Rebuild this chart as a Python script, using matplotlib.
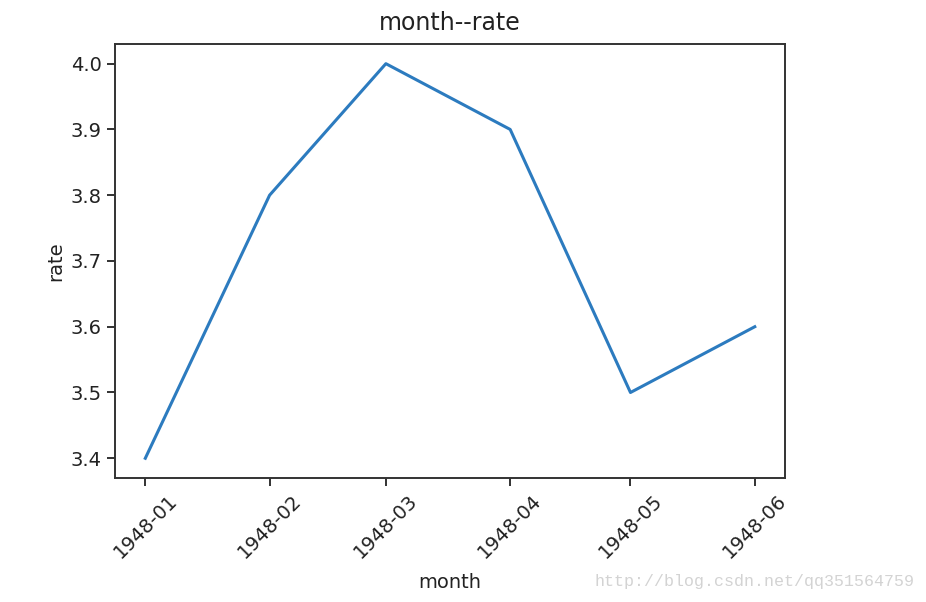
import datetime as dt
import matplotlib
matplotlib.use("Agg")
import matplotlib.pyplot as plt

months = ["1948-01", "1948-02", "1948-03", "1948-04", "1948-05", "1948-06"]
rate = [3.4, 3.8, 4.0, 3.9, 3.5, 3.6]

dates = [dt.datetime.strptime(m, "%Y-%m") for m in months]

fig = plt.figure(figsize=(9.26, 6.02), dpi=100)
ax = fig.add_axes([0.124, 0.206, 0.724, 0.721])
ax.plot(dates, rate, color="#2c7bbf", linewidth=2.2)
ax.set_xticks(dates)
ax.set_xticklabels(months, rotation=45, fontsize=14)
ax.tick_params(axis="both", length=6, width=1.3, colors="#222222", labelsize=14)
ax.set_title("month--rate", fontsize=17, pad=10, color="#222222")
ax.set_xlabel("month", fontsize=14, color="#222222", labelpad=8)
ax.set_ylabel("rate", fontsize=14, color="#222222")
for s in ax.spines.values():
    s.set_linewidth(1.4)
    s.set_color("#333333")

fig.text(0.988, 0.022, "http://blog.csdn.net/qq351564759", ha="right", va="bottom",
         fontsize=12, color="#d3d3d3", family="Liberation Mono")

fig.savefig("out.png", dpi=100)
